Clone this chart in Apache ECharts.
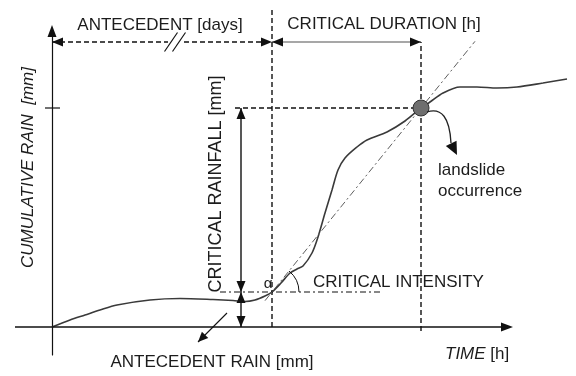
<!DOCTYPE html>
<html><head><meta charset="utf-8">
<script src="https://cdn.jsdelivr.net/npm/echarts@6/dist/echarts.min.js"></script>
<style>html,body{margin:0;padding:0;background:#fff}#c{width:576px;height:376px}</style>
</head><body><div id="c"></div>
<script>
// Cumulative rainfall curve (schematic units: time, cumulative rain)
const curveTime = [0, 18, 33, 48, 65, 98, 128, 161, 181, 193, 203, 213, 220, 229, 238, 245, 251, 260, 266, 273, 280, 286, 293, 305, 315, 335, 353, 369, 378, 391, 408, 425, 445, 465, 491, 515];
const curveRain = [0, 7, 12, 17, 22, 27, 28.5, 27.5, 26.5, 25.5, 27, 31, 35, 44, 54, 58, 61, 74, 90, 114, 137, 157, 169, 180, 187, 195, 206, 219, 225, 234, 240, 240, 239, 240, 244, 248];

// Key values of the scheme
const criticalStartTime = 220;   // end of antecedent period / start of critical duration
const landslideTime = 369;       // landslide occurrence
const antecedentRain = 35;       // antecedent rain
const landslideRain = 219;       // cumulative rain at landslide

// Texts
const labelTexts = {
  antecedent: 'ANTECEDENT [days]',
  duration: 'CRITICAL DURATION [h]',
  rainfall: 'CRITICAL RAINFALL [mm]',
  intensity: 'CRITICAL INTENSITY',
  antRain: 'ANTECEDENT RAIN [mm]',
  time: '{i|TIME} [h]',
  yName: 'CUMULATIVE RAIN  [mm]',
  landslide: 'landslide',
  occurrence: 'occurrence',
  alpha: 'α'
};

// Layout anchors (in chart units)
const L = {
  xAxisFrom: -37, xAxisTo: 461,
  periodLevel: 285, startLineTop: 319, endLineBottom: -4,
  rainArrowTime: 189, rainLineFrom: 183,
  intensityFrom: 168, intensityTo: 329,
  trendFrom: 213, trendTo: 423,
  breakCross: [119, 127], breakGap: [116, 132],
  ptrFrom: [175, 14], ptrTo: [146, -15],
  lsFrom: [375, 215], lsCtrl: [397, 222], lsTo: [399, 184], lsTip: [405, 172],
  antTxt: [108, 302], durTxt: [332, 303], rainTxt: [164, 143],
  intTxt: [261, 45], antRainTxt: [160, -35], timeTxt: [393, -27.5],
  yTxt: [-24, 159.5], lsTxt: [386, 157], occTxt: [386, 136], alphaTxt: [216, 43]
};

const FONT = '"Liberation Sans", Arial, sans-serif';
const TXT = '#1c1c1c';
const INK = '#111';

function head(tip, from, len, half) {
  len = len || 11; half = half || 4.5;
  const dx = tip[0] - from[0], dy = tip[1] - from[1];
  const d = Math.hypot(dx, dy), ux = dx / d, uy = dy / d;
  const bx = tip[0] - ux * len, by = tip[1] - uy * len;
  return { type: 'polygon', shape: { points: [tip, [bx - uy * half, by + ux * half], [bx + uy * half, by - ux * half]] }, style: { fill: INK } };
}
function seg(a, b, style) {
  return { type: 'line', shape: { x1: a[0], y1: a[1], x2: b[0], y2: b[1] }, style: Object.assign({ stroke: INK, lineWidth: 1.4 }, style || {}) };
}
function txt(p, text, opt) {
  opt = opt || {};
  return { type: 'text', x: p[0], y: p[1], rotation: opt.rot || 0,
    style: Object.assign({ text: text, fill: TXT, fontSize: 17, fontFamily: FONT, align: 'center', verticalAlign: 'middle' }, opt.style || {}) };
}

function renderItem(params, api) {
  const P = (t, r) => api.coord([t, r]);
  const ch = [];
  const dash = [5, 3];
  // time axis with arrow
  const x0 = P(L.xAxisFrom, 0), x1 = P(L.xAxisTo, 0);
  ch.push(seg(x0, [x1[0] - 8, x1[1]], { lineWidth: 1.5 }), head(x1, x0, 12, 4.5));
  // top antecedent (dashed, broken) arrow
  const a0 = P(0, L.periodLevel), a1 = P(criticalStartTime, L.periodLevel);
  ch.push(seg(a0, P(L.breakGap[0], L.periodLevel), { lineDash: dash }));
  ch.push(seg(P(L.breakGap[1], L.periodLevel), a1, { lineDash: dash }));
  ch.push(head(a0, a1), head(a1, a0));
  L.breakCross.forEach(t => { const c = P(t, L.periodLevel); ch.push(seg([c[0] - 6.5, c[1] + 9.5], [c[0] + 6.5, c[1] - 9.5], { lineWidth: 1.2 })); });
  // critical duration arrow
  const d1 = P(landslideTime, L.periodLevel);
  ch.push(seg(a1, d1, { stroke: '#8a8a8a', lineWidth: 1.6 }));
  ch.push(head(a1, d1), head(d1, a1));
  // vertical dashed lines
  ch.push(seg(P(criticalStartTime, 0), P(criticalStartTime, L.startLineTop), { lineDash: dash }));
  ch.push(seg(P(landslideTime, L.endLineBottom), P(landslideTime, L.periodLevel), { lineDash: dash }));
  // horizontal dashed at landslide rain
  ch.push(seg(P(L.rainLineFrom, landslideRain), P(landslideTime, landslideRain), { lineDash: dash }));
  // y tick
  const yt = P(0, landslideRain);
  ch.push(seg([yt[0] - 7, yt[1]], [yt[0] + 8, yt[1]], { lineWidth: 1.2 }));
  // critical rainfall arrow
  const r1 = P(L.rainArrowTime, landslideRain), r0 = P(L.rainArrowTime, antecedentRain), rz = P(L.rainArrowTime, 0);
  ch.push(seg(r1, r0), head(r1, r0), head(r0, r1));
  ch.push(seg(r0, rz), head(r0, rz), head(rz, r0));
  // intensity dash-dot line
  ch.push(seg(P(L.intensityFrom, antecedentRain), P(L.intensityTo, antecedentRain), { lineDash: [6, 3, 2, 3], lineWidth: 1.1 }));
  // trend line (critical intensity)
  const slope = (landslideRain - antecedentRain) / (landslideTime - criticalStartTime);
  const tr = t => antecedentRain + (t - criticalStartTime) * slope;
  ch.push(seg(P(L.trendFrom, tr(L.trendFrom)), P(L.trendTo, tr(L.trendTo)), { stroke: '#5e5e5e', lineDash: [7, 3, 2, 3], lineWidth: 1 }));
  // angle arc
  const o = P(criticalStartTime, antecedentRain), q = P(landslideTime, landslideRain);
  const ang = Math.atan2(q[1] - o[1], q[0] - o[0]);
  ch.push({ type: 'arc', shape: { cx: o[0], cy: o[1], r: 27, startAngle: ang, endAngle: 0, clockwise: true }, style: { stroke: INK, fill: null, lineWidth: 1 } });
  // landslide marker
  ch.push({ type: 'circle', shape: { cx: q[0], cy: q[1], r: 8 }, style: { fill: '#6f6f6f', stroke: '#333', lineWidth: 1 } });
  // landslide pointer
  const s0 = P(L.lsFrom[0], L.lsFrom[1]), sc = P(L.lsCtrl[0], L.lsCtrl[1]), s1 = P(L.lsTo[0], L.lsTo[1]), st = P(L.lsTip[0], L.lsTip[1]);
  ch.push({ type: 'bezierCurve', shape: { x1: s0[0], y1: s0[1], cpx1: sc[0], cpy1: sc[1], x2: s1[0], y2: s1[1] }, style: { stroke: '#222', fill: null, lineWidth: 1.3 } });
  ch.push(head(st, [s1[0] - 4, s1[1] - 8], 13, 6));
  // antecedent rain pointer
  const p0 = P(L.ptrFrom[0], L.ptrFrom[1]), p1 = P(L.ptrTo[0], L.ptrTo[1]);
  ch.push(seg(p0, p1, { lineWidth: 1.1 }), head(p1, p0, 10, 4.5));
  // texts
  const T = a => P(a[0], a[1]);
  ch.push(txt(T(L.antTxt), labelTexts.antecedent));
  ch.push(txt(T(L.durTxt), labelTexts.duration));
  ch.push(txt(T(L.rainTxt), labelTexts.rainfall, { rot: Math.PI / 2, style: { fontSize: 18 } }));
  ch.push(txt(T(L.intTxt), labelTexts.intensity, { style: { align: 'left' } }));
  ch.push(txt(T(L.antRainTxt), labelTexts.antRain));
  ch.push(txt(T(L.timeTxt), labelTexts.time, { style: { align: 'left', rich: { i: { fontStyle: 'italic', fontSize: 17, fontFamily: FONT, fill: TXT } } } }));
  ch.push(txt(T(L.yTxt), labelTexts.yName, { rot: Math.PI / 2, style: { fontStyle: 'italic' } }));
  ch.push(txt(T(L.lsTxt), labelTexts.landslide, { style: { align: 'left' } }));
  ch.push(txt(T(L.occTxt), labelTexts.occurrence, { style: { align: 'left' } }));
  ch.push(txt(T(L.alphaTxt), labelTexts.alpha, { style: { fontSize: 15 } }));
  return { type: 'group', children: ch };
}

const chart = echarts.init(document.getElementById('c'), null, { renderer: 'canvas' });
chart.setOption({
  animation: false,
  backgroundColor: '#fff',
  grid: { left: 15, right: 4, top: 31, bottom: 21, containLabel: false },
  xAxis: { type: 'value', min: -37, max: 520,
    axisLine: { show: false }, axisTick: { show: false }, axisLabel: { show: false }, splitLine: { show: false } },
  yAxis: { type: 'value', min: -28, max: 296,
    axisLine: { show: true, onZero: true, symbol: ['none', 'triangle'], symbolSize: [9, 12], lineStyle: { color: INK, width: 1.2 } },
    axisTick: { show: false }, axisLabel: { show: false }, splitLine: { show: false } },
  series: [
    { type: 'line', data: curveTime.map((t, i) => [t, curveRain[i]]), smooth: 0.3, showSymbol: false, clip: false,
      lineStyle: { color: '#3a3a3a', width: 1.6 }, z: 2, silent: true },
    { type: 'custom', coordinateSystem: 'cartesian2d', data: [[0, 0]], renderItem: renderItem, clip: false, z: 3, silent: true }
  ]
});
</script>
</body></html>
